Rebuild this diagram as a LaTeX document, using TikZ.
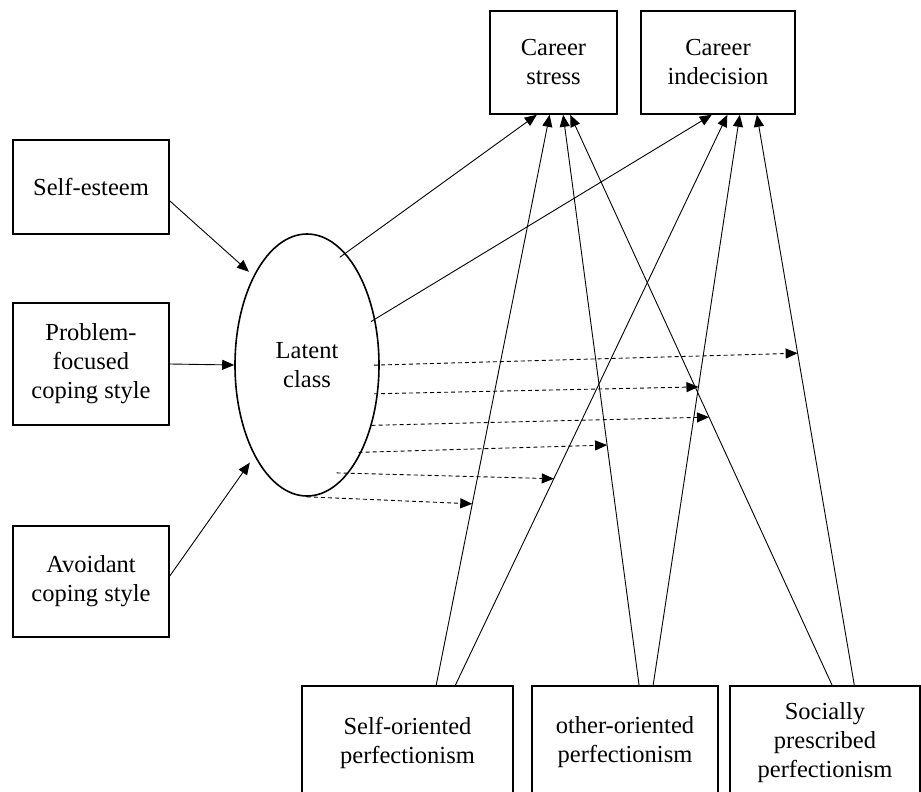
\documentclass[tikz,border=0pt]{standalone}
\usepackage{fontspec}
\setmainfont{Liberation Serif}
\usetikzlibrary{calc, positioning, shapes.geometric, arrows.meta}

\begin{document}
\begin{tikzpicture}[x=1pt, y=-1pt,
    font=\fontsize{24.5}{29}\selectfont,
    box/.style={draw, line width=1.6pt, inner sep=0pt, align=center},
    latentvar/.style={draw, ellipse, line width=1.6pt, inner sep=0pt, align=center,
      minimum width=144pt, minimum height=262pt},
    effect/.style={line width=0.9pt, -{Triangle[length=12pt,width=10pt]}},
    moderation/.style={line width=0.9pt, dash pattern=on 4pt off 3pt,
      -{Triangle[length=12pt,width=10pt]}}]
      \path[use as bounding box, clip] (0,0) rectangle (921,792);

      \node[box, minimum width=127pt, minimum height=103pt] (stress) at (553.5,62.5) {Career\\stress};
      \node[box, minimum width=154pt, minimum height=103pt] (indecision) at (718,62.5) {Career\\indecision};
      \node[box, minimum width=156pt, minimum height=94pt] (esteem) at (91,187) {Self-esteem};
      \node[box, minimum width=156pt, minimum height=122pt] (problem) at (91,364) {Problem-\\focused\\coping style};
      \node[box, minimum width=156pt, minimum height=111pt] (avoidant) at (91,581.5) {Avoidant\\coping style};
      \node[latentvar] (latent) at (307,365) {Latent\\class};
      \node[box, minimum width=211pt, minimum height=113pt] (selfp) at (407.5,742.5) {Self-oriented\\perfectionism};
      \node[box, minimum width=186pt, minimum height=113pt] (otherp) at (625,742.5) {other-oriented\\perfectionism};
      \node[box, minimum width=190pt, minimum height=113pt] (sociallyp) at (825,742.5) {Socially\\prescribed\\perfectionism};

      \coordinate (cs1) at ($(stress.south west)!.37!(stress.south east)$);
      \coordinate (cs2) at ($(stress.south west)!.47!(stress.south east)$);
      \coordinate (cs3) at ($(stress.south west)!.575!(stress.south east)$);
      \coordinate (cs4) at ($(stress.south west)!.63!(stress.south east)$);
      \coordinate (ci1) at ($(indecision.south west)!.46!(indecision.south east)$);
      \coordinate (ci2) at ($(indecision.south west)!.56!(indecision.south east)$);
      \coordinate (ci3) at ($(indecision.south west)!.64!(indecision.south east)$);
      \coordinate (ci4) at ($(indecision.south west)!.75!(indecision.south east)$);
      \coordinate (so1) at ($(selfp.north west)!.635!(selfp.north east)$);
      \coordinate (so2) at ($(selfp.north west)!.725!(selfp.north east)$);
      \coordinate (oo1) at ($(otherp.north west)!.575!(otherp.north east)$);
      \coordinate (oo2) at ($(otherp.north west)!.65!(otherp.north east)$);
      \coordinate (sp1) at ($(sociallyp.north west)!.537!(sociallyp.north east)$);
      \coordinate (sp2) at ($(sociallyp.north west)!.653!(sociallyp.north east)$);

      \draw[effect, shorten >=6pt] (esteem.-10) -- (latent.121);
      \draw[effect] (problem.east) -- (latent.west);
      \draw[effect, shorten >=8pt] (avoidant.4) -- (latent.240);

      \draw[effect, shorten <=-7pt] (latent.71) -- (cs1);
      \draw[effect, shorten <=-5pt] (latent.34) -- (ci1);

      \draw[effect] (so1) -- (cs2);
      \draw[effect] (so2) -- (ci2);
      \draw[effect] (oo1) -- (cs3);
      \draw[effect] (oo2) -- (ci3);
      \draw[effect] (sp1) -- (cs4);
      \draw[effect] (sp2) -- (ci4);

      \draw[moderation, shorten <=-6pt] (latent.0) -- ($(sp2)!.582!(ci4)$);
      \draw[moderation, shorten <=-4pt] (latent.-22) -- ($(oo2)!.523!(ci3)$);
      \draw[moderation] (latent.-43) -- ($(sp1)!.47!(cs4)$);
      \draw[moderation, shorten <=-3pt] (latent.-58) -- ($(oo1)!.421!(cs3)$);
      \draw[moderation, shorten <=-12pt] (latent.-69) -- ($(so2)!.362!(ci2)$);
      \draw[moderation] (latent.-90) -- ($(so1)!.318!(cs2)$);
    \end{tikzpicture}
\end{document}
